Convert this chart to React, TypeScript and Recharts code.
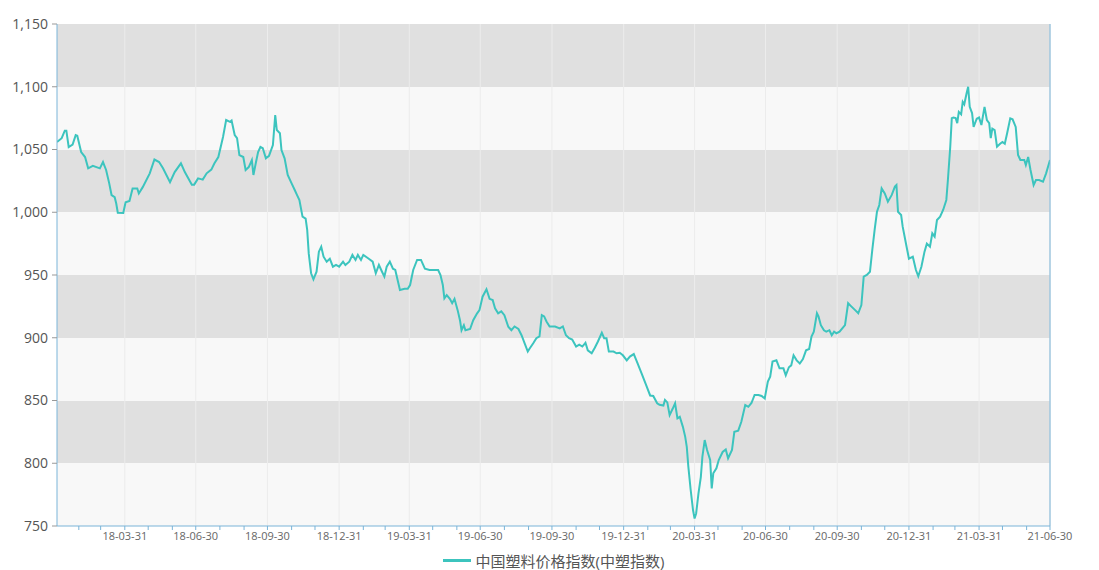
import React from "react";
import {
  CartesianGrid,
  Legend,
  Line,
  LineChart,
  ReferenceLine,
  XAxis,
  YAxis,
} from "recharts";

// 中塑指数 (date, index value)
const PRICE_POINTS: [string, number][] = [
  ["2018-01-03", 1056], ["2018-01-09", 1059], ["2018-01-13", 1065], ["2018-01-15", 1065],
  ["2018-01-18", 1052], ["2018-01-23", 1054], ["2018-01-27", 1061.5], ["2018-01-29", 1061],
  ["2018-02-03", 1048], ["2018-02-08", 1044], ["2018-02-12", 1035], ["2018-02-18", 1037],
  ["2018-02-27", 1035], ["2018-03-03", 1040], ["2018-03-07", 1033.7], ["2018-03-11", 1023],
  ["2018-03-14", 1013.7], ["2018-03-18", 1012], ["2018-03-20", 1007], ["2018-03-22", 999.6],
  ["2018-03-29", 999.5], ["2018-04-01", 1008], ["2018-04-06", 1009], ["2018-04-10", 1019],
  ["2018-04-16", 1019], ["2018-04-18", 1015], ["2018-04-23", 1020], ["2018-05-02", 1031],
  ["2018-05-08", 1042], ["2018-05-14", 1040], ["2018-05-19", 1035], ["2018-05-28", 1024],
  ["2018-06-03", 1032], ["2018-06-11", 1039], ["2018-06-16", 1032], ["2018-06-25", 1022],
  ["2018-06-28", 1022], ["2018-07-03", 1027], ["2018-07-09", 1026], ["2018-07-14", 1031],
  ["2018-07-20", 1034], ["2018-07-24", 1039], ["2018-07-29", 1044], ["2018-08-04", 1060],
  ["2018-08-08", 1073.5], ["2018-08-13", 1072], ["2018-08-15", 1073], ["2018-08-19", 1061.5],
  ["2018-08-22", 1059], ["2018-08-25", 1045.6], ["2018-08-30", 1044], ["2018-09-02", 1033.7],
  ["2018-09-06", 1036], ["2018-09-10", 1041.6], ["2018-09-12", 1029.7], ["2018-09-15", 1039],
  ["2018-09-18", 1048], ["2018-09-21", 1052], ["2018-09-24", 1051], ["2018-09-28", 1043],
  ["2018-10-02", 1045], ["2018-10-07", 1053.6], ["2018-10-10", 1077.5], ["2018-10-12", 1065.5],
  ["2018-10-16", 1063], ["2018-10-18", 1049.6], ["2018-10-22", 1043], ["2018-10-26", 1029.7],
  ["2018-10-31", 1023], ["2018-11-04", 1017.7], ["2018-11-07", 1013.7], ["2018-11-10", 1009.8],
  ["2018-11-14", 996.5], ["2018-11-18", 995], ["2018-11-20", 985.9], ["2018-11-22", 967],
  ["2018-11-25", 951.4], ["2018-11-28", 946.6], ["2018-12-02", 952.6], ["2018-12-05", 968.6],
  ["2018-12-08", 972.5], ["2018-12-11", 964.6], ["2018-12-15", 960.6], ["2018-12-19", 963],
  ["2018-12-23", 956.6], ["2018-12-27", 958], ["2018-12-31", 956.6], ["2019-01-05", 960.6],
  ["2019-01-08", 958], ["2019-01-13", 960.6], ["2019-01-17", 966], ["2019-01-21", 962],
  ["2019-01-24", 966], ["2019-01-28", 962], ["2019-01-31", 966], ["2019-02-07", 963],
  ["2019-02-12", 960.6], ["2019-02-16", 951.4], ["2019-02-20", 958], ["2019-02-24", 952.6],
  ["2019-02-27", 948.7], ["2019-03-02", 956.6], ["2019-03-06", 960.6], ["2019-03-10", 955],
  ["2019-03-13", 954], ["2019-03-16", 946], ["2019-03-19", 938], ["2019-03-25", 939],
  ["2019-03-29", 939], ["2019-04-01", 942], ["2019-04-05", 954], ["2019-04-10", 962],
  ["2019-04-15", 962], ["2019-04-20", 955], ["2019-04-26", 954], ["2019-05-03", 954],
  ["2019-05-07", 954], ["2019-05-10", 950], ["2019-05-13", 942], ["2019-05-15", 931.4],
  ["2019-05-18", 934], ["2019-05-22", 931], ["2019-05-25", 927.5], ["2019-05-28", 931],
  ["2019-06-01", 922], ["2019-06-04", 914], ["2019-06-06", 906], ["2019-06-09", 910],
  ["2019-06-11", 906], ["2019-06-17", 907], ["2019-06-21", 914], ["2019-06-26", 919.5],
  ["2019-06-29", 922], ["2019-07-03", 932.7], ["2019-07-08", 938.6], ["2019-07-12", 931],
  ["2019-07-16", 930], ["2019-07-19", 923.5], ["2019-07-23", 919.5], ["2019-07-27", 921],
  ["2019-07-31", 918], ["2019-08-05", 908.8], ["2019-08-09", 906], ["2019-08-13", 909],
  ["2019-08-18", 907], ["2019-08-22", 902], ["2019-08-26", 895.6], ["2019-08-30", 889],
  ["2019-09-01", 891], ["2019-09-06", 895.6], ["2019-09-10", 899.6], ["2019-09-14", 901],
  ["2019-09-17", 918], ["2019-09-20", 917], ["2019-09-23", 913], ["2019-09-27", 909],
  ["2019-10-04", 909], ["2019-10-10", 907.5], ["2019-10-14", 909], ["2019-10-18", 902],
  ["2019-10-22", 899.6], ["2019-10-26", 898.5], ["2019-10-31", 893], ["2019-11-04", 894.5],
  ["2019-11-08", 893], ["2019-11-12", 896], ["2019-11-15", 890], ["2019-11-20", 887.6],
  ["2019-11-24", 892], ["2019-11-28", 897], ["2019-12-03", 904], ["2019-12-06", 899.6],
  ["2019-12-09", 899.6], ["2019-12-12", 889], ["2019-12-18", 889], ["2019-12-22", 887.6],
  ["2019-12-26", 888], ["2019-12-30", 886], ["2020-01-04", 882], ["2020-01-08", 885],
  ["2020-01-13", 887], ["2020-01-17", 881], ["2020-01-23", 871.7], ["2020-01-29", 862],
  ["2020-02-03", 854], ["2020-02-07", 853.6], ["2020-02-12", 847.8], ["2020-02-15", 846.6],
  ["2020-02-20", 846], ["2020-02-22", 850.5], ["2020-02-25", 848.5], ["2020-02-28", 838.4],
  ["2020-03-03", 843.6], ["2020-03-06", 847.8], ["2020-03-09", 835.8], ["2020-03-12", 837],
  ["2020-03-16", 829], ["2020-03-19", 821], ["2020-03-21", 813], ["2020-03-23", 797.3],
  ["2020-03-26", 778.7], ["2020-03-29", 762.7], ["2020-03-31", 756], ["2020-04-02", 760],
  ["2020-04-05", 776], ["2020-04-08", 789], ["2020-04-10", 805], ["2020-04-13", 818.5],
  ["2020-04-16", 810.6], ["2020-04-20", 802.6], ["2020-04-22", 780], ["2020-04-24", 792],
  ["2020-04-28", 796], ["2020-05-01", 802.6], ["2020-05-06", 809], ["2020-05-10", 811],
  ["2020-05-13", 804], ["2020-05-18", 810.6], ["2020-05-21", 825], ["2020-05-26", 826],
  ["2020-05-30", 833], ["2020-06-04", 846.4], ["2020-06-08", 845], ["2020-06-12", 848],
  ["2020-06-16", 854.4], ["2020-06-21", 854.4], ["2020-06-25", 853.6], ["2020-06-29", 851.6],
  ["2020-07-03", 865], ["2020-07-06", 869], ["2020-07-09", 881], ["2020-07-14", 882],
  ["2020-07-18", 875.6], ["2020-07-23", 875.6], ["2020-07-26", 870], ["2020-07-30", 876.5],
  ["2020-08-02", 878], ["2020-08-05", 886], ["2020-08-09", 882], ["2020-08-13", 879.5],
  ["2020-08-17", 883], ["2020-08-21", 890], ["2020-08-25", 891], ["2020-08-28", 901],
  ["2020-08-31", 904.8], ["2020-09-04", 919.5], ["2020-09-06", 917], ["2020-09-09", 910],
  ["2020-09-13", 906], ["2020-09-16", 904.8], ["2020-09-20", 906], ["2020-09-23", 902],
  ["2020-09-26", 904.8], ["2020-09-29", 903.6], ["2020-10-03", 904.8], ["2020-10-10", 910],
  ["2020-10-14", 927.5], ["2020-10-18", 925], ["2020-10-23", 922], ["2020-10-27", 919.5],
  ["2020-10-31", 926], ["2020-11-03", 948.7], ["2020-11-07", 950], ["2020-11-11", 952.6],
  ["2020-11-14", 970], ["2020-11-17", 985.9], ["2020-11-20", 1000.4], ["2020-11-23", 1005.8],
  ["2020-11-26", 1019], ["2020-11-30", 1015], ["2020-12-04", 1008.4], ["2020-12-09", 1013.8],
  ["2020-12-13", 1020.4], ["2020-12-15", 1021.7], ["2020-12-17", 1000.4], ["2020-12-21", 997.8],
  ["2020-12-23", 988.5], ["2020-12-28", 972.5], ["2020-12-31", 963], ["2021-01-05", 964.6],
  ["2021-01-09", 954], ["2021-01-12", 949], ["2021-01-16", 956.6], ["2021-01-20", 968.6],
  ["2021-01-23", 975], ["2021-01-27", 972.5], ["2021-01-30", 983.2], ["2021-02-02", 980.6],
  ["2021-02-05", 993.8], ["2021-02-09", 996.5], ["2021-02-13", 1002], ["2021-02-17", 1009.8],
  ["2021-02-19", 1025.7], ["2021-02-22", 1052], ["2021-02-24", 1075], ["2021-02-26", 1075.5],
  ["2021-03-01", 1075], ["2021-03-03", 1071], ["2021-03-05", 1080], ["2021-03-08", 1078],
  ["2021-03-10", 1088], ["2021-03-12", 1086], ["2021-03-15", 1094.8], ["2021-03-17", 1100],
  ["2021-03-19", 1084], ["2021-03-22", 1079], ["2021-03-24", 1068], ["2021-03-28", 1074.5],
  ["2021-03-31", 1075.5], ["2021-04-03", 1069.5], ["2021-04-07", 1084], ["2021-04-10", 1073.5],
  ["2021-04-13", 1071], ["2021-04-15", 1059], ["2021-04-17", 1066.6], ["2021-04-20", 1065.4],
  ["2021-04-23", 1052.2], ["2021-04-27", 1054.6], ["2021-04-30", 1056], ["2021-05-03", 1054.6],
  ["2021-05-06", 1063], ["2021-05-10", 1074.8], ["2021-05-13", 1074], ["2021-05-17", 1068],
  ["2021-05-20", 1045.6], ["2021-05-23", 1041.6], ["2021-05-28", 1041.6], ["2021-05-30", 1037.6],
  ["2021-06-02", 1044], ["2021-06-05", 1033.7], ["2021-06-09", 1021.7], ["2021-06-12", 1025.6],
  ["2021-06-16", 1025.6], ["2021-06-21", 1024.3], ["2021-06-25", 1031], ["2021-06-30", 1041.6],
];

const SERIES_NAME = "中国塑料价格指数(中塑指数)";

// labelled ticks (quarter ends)
const QUARTER_TICKS = [
  "2018-03-31", "2018-06-30", "2018-09-30", "2018-12-31",
  "2019-03-31", "2019-06-30", "2019-09-30", "2019-12-31",
  "2020-03-31", "2020-06-30", "2020-09-30", "2020-12-31",
  "2021-03-31", "2021-06-30",
];

// small unlabelled tick marks at every month end
const MONTH_TICKS = [
  "2018-01-31", "2018-02-28", "2018-03-31", "2018-04-30", "2018-05-31", "2018-06-30",
  "2018-07-31", "2018-08-31", "2018-09-30", "2018-10-31", "2018-11-30", "2018-12-31",
  "2019-01-31", "2019-02-28", "2019-03-31", "2019-04-30", "2019-05-31", "2019-06-30",
  "2019-07-31", "2019-08-31", "2019-09-30", "2019-10-31", "2019-11-30", "2019-12-31",
  "2020-01-31", "2020-02-29", "2020-03-31", "2020-04-30", "2020-05-31", "2020-06-30",
  "2020-07-31", "2020-08-31", "2020-09-30", "2020-10-31", "2020-11-30", "2020-12-31",
  "2021-01-31", "2021-02-28", "2021-03-31", "2021-04-30", "2021-05-31", "2021-06-30",
];

const Y_TICKS = [750, 800, 850, 900, 950, 1000, 1050, 1100, 1150];

const LINE_COLOUR = "#3cc4be";
const AXIS_COLOUR = "#7ab4d8";
const FONT = "'Open Sans', 'Noto Sans CJK SC', sans-serif";

const toTime = (s: string) => {
  const [y, m, d] = s.split("-").map(Number);
  return Date.UTC(y, m - 1, d);
};

const data = PRICE_POINTS.map(([date, value]) => ({ t: toTime(date), value }));
const quarterSet = new Set(QUARTER_TICKS.map(toTime));

function formatDate(t: number) {
  if (!quarterSet.has(t)) return "";
  const d = new Date(t);
  const yy = String(d.getUTCFullYear()).slice(2);
  const mm = String(d.getUTCMonth() + 1).padStart(2, "0");
  const dd = String(d.getUTCDate()).padStart(2, "0");
  return `${yy}-${mm}-${dd}`;
}

const formatValue = (v: number) => v.toLocaleString("en-US");

function renderLegend(props: any) {
  const item = props.payload?.[0];
  return (
    <div
      style={{
        display: "flex",
        justifyContent: "center",
        alignItems: "center",
        fontFamily: FONT,
        fontSize: 15,
        color: "#555",
        paddingLeft: 8,
      }}
    >
      <span
        style={{
          display: "inline-block",
          width: 28,
          height: 3,
          background: item?.color ?? LINE_COLOUR,
          marginRight: 5,
        }}
      />
      <span>{item?.value ?? SERIES_NAME}</span>
    </div>
  );
}

export default function App() {
  const tickStyle = { fill: "#555", fontSize: 14, fontFamily: FONT };
  return (
    <div
      style={{
        position: "absolute",
        left: 0,
        top: 0,
        width: 1099,
        height: 570,
        background: "#fff",
      }}
    >
      <LineChart
        width={1099}
        height={570}
        data={data}
        margin={{ top: 24, right: 0, bottom: 0, left: 0 }}
      >
        <CartesianGrid
          vertical={false}
          horizontal
          stroke="transparent"
          horizontalFill={["#e0e0e0", "#f8f8f8"]}
          fillOpacity={1}
          yAxisId="left"
        />
        {QUARTER_TICKS.map((q) => (
          <ReferenceLine
            key={q}
            x={toTime(q)}
            yAxisId="left"
            stroke="#ececec"
            strokeWidth={1}
          />
        ))}
        <XAxis
          dataKey="t"
          type="number"
          scale="time"
          domain={[toTime("2018-01-03"), toTime("2021-06-30")]}
          ticks={MONTH_TICKS.map(toTime)}
          interval={0}
          tickFormatter={formatDate}
          height={24}
          stroke={AXIS_COLOUR}
          tickSize={4}
          tick={{ fill: "#666", fontSize: 11, fontFamily: FONT }}
          allowDataOverflow
        />
        <YAxis
          yAxisId="left"
          domain={[750, 1150]}
          ticks={Y_TICKS}
          width={57}
          stroke={AXIS_COLOUR}
          tickLine={{ stroke: "#999" }}
          tickSize={5}
          tickMargin={4}
          tickFormatter={formatValue}
          tick={tickStyle}
          interval={0}
        />
        <YAxis
          yAxisId="right"
          orientation="right"
          domain={[750, 1150]}
          ticks={Y_TICKS}
          width={49}
          stroke={AXIS_COLOUR}
          tickLine={{ stroke: "#999" }}
          tickSize={5}
          tickMargin={4}
          tickFormatter={formatValue}
          tick={tickStyle}
          interval={0}
        />
        <Legend verticalAlign="bottom" height={20} content={renderLegend} />
        <Line
          yAxisId="left"
          dataKey="value"
          name={SERIES_NAME}
          type="linear"
          stroke={LINE_COLOUR}
          strokeWidth={2}
          dot={false}
          activeDot={false}
          isAnimationActive={false}
        />
      </LineChart>
    </div>
  );
}
